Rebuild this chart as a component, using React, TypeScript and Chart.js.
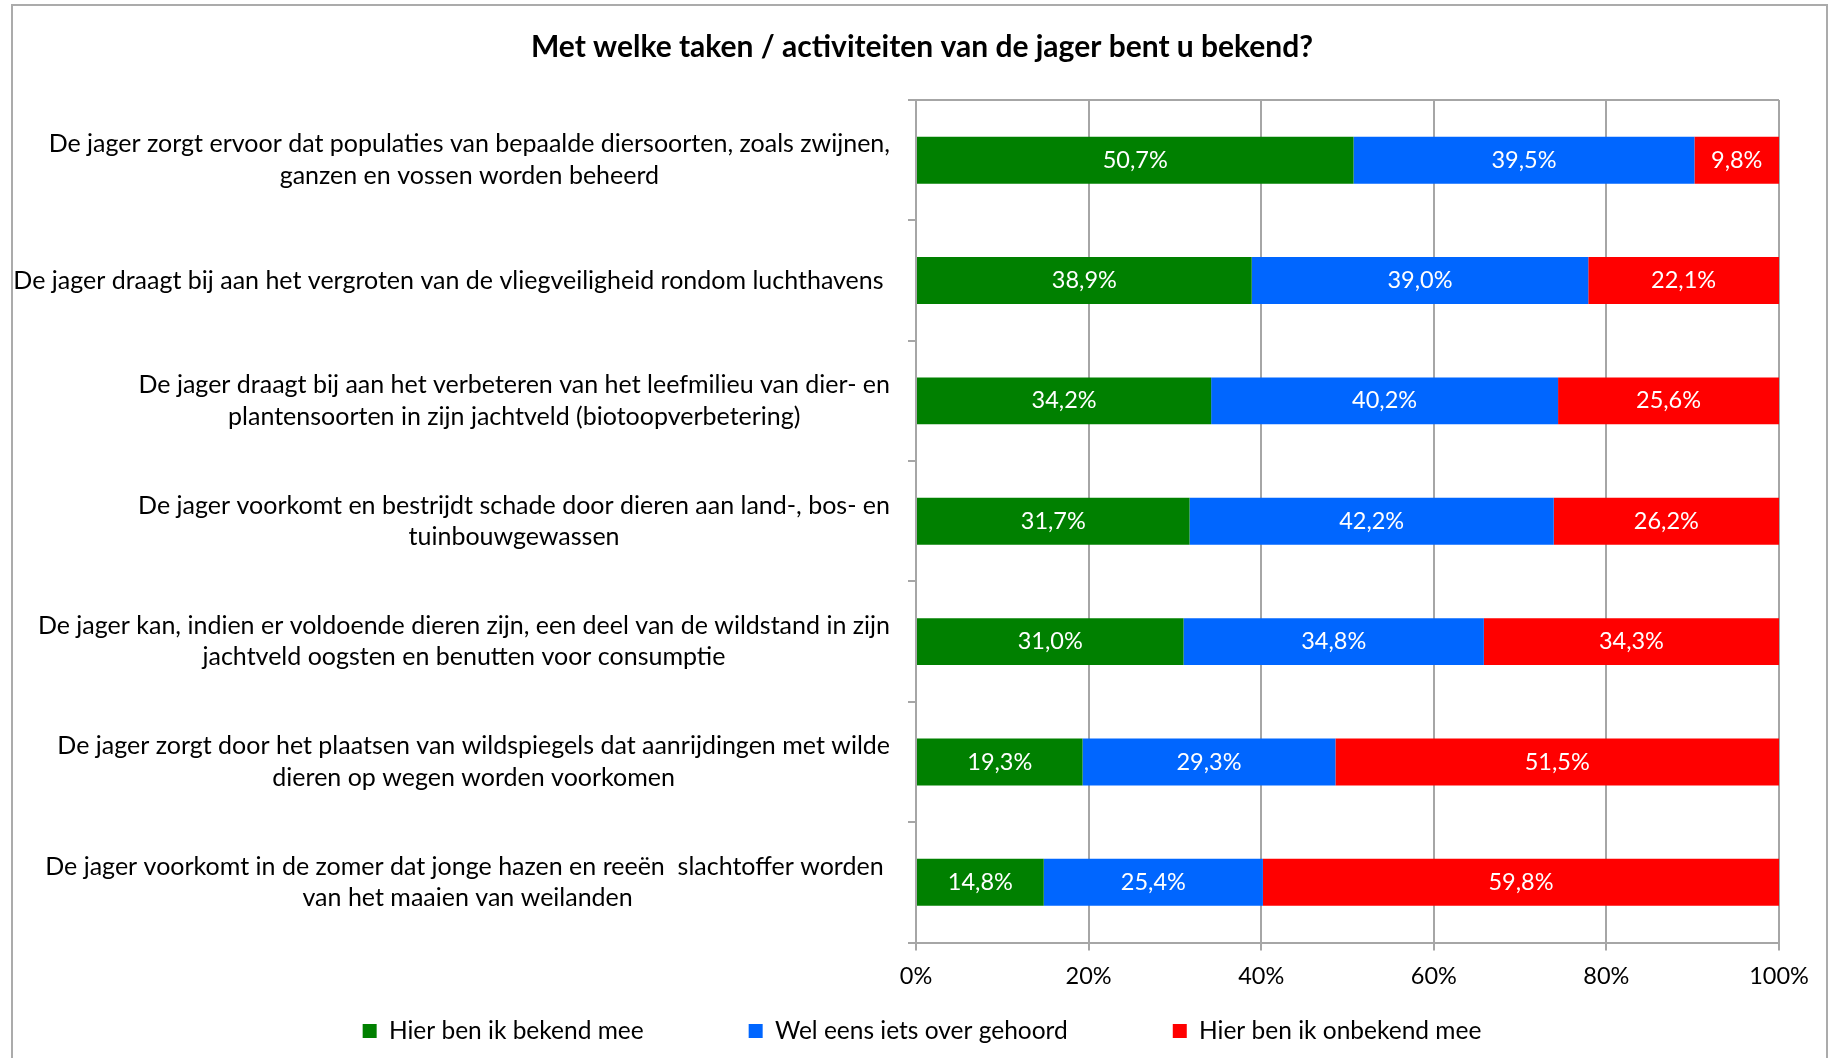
import { useEffect, useRef } from 'react';
import { Chart, registerables } from 'chart.js';

Chart.register(...registerables);

const TITLE = 'Met welke taken / activiteiten van de jager bent u bekend?';

const CATEGORIES: string[][] = [
  ['De jager zorgt ervoor dat populaties van bepaalde diersoorten, zoals zwijnen,', 'ganzen en vossen worden beheerd'],
  ['De jager draagt bij aan het vergroten van de vliegveiligheid rondom luchthavens '],
  ['De jager draagt bij aan het verbeteren van het leefmilieu van dier- en', 'plantensoorten in zijn jachtveld (biotoopverbetering)'],
  ['De jager voorkomt en bestrijdt schade door dieren aan land-, bos- en', 'tuinbouwgewassen'],
  ['De jager kan, indien er voldoende dieren zijn, een deel van de wildstand in zijn', 'jachtveld oogsten en benutten voor consumptie'],
  ['De jager zorgt door het plaatsen van wildspiegels dat aanrijdingen met wilde', 'dieren op wegen worden voorkomen'],
  ['De jager voorkomt in de zomer dat jonge hazen en reeën  slachtoffer worden ', 'van het maaien van weilanden'],
];

const SERIES_NAMES = ['Hier ben ik bekend mee', 'Wel eens iets over gehoord', 'Hier ben ik onbekend mee'];
const BEKEND = [50.7, 38.9, 34.2, 31.7, 31.0, 19.3, 14.8];
const GEHOORD = [39.5, 39.0, 40.2, 42.2, 34.8, 29.3, 25.4];
const ONBEKEND = [9.8, 22.1, 25.6, 26.2, 34.3, 51.5, 59.8];
const X_TICKS = [0, 20, 40, 60, 80, 100];

const COLORS = ['#008000', '#0066FF', '#FF0000'];
const GRID = '#a6a6a6';
const FONT = 'Lato';
const CAT_FS = 25;
const VAL_FS = 23.5;
const TICK_FS = 23.5;
const LEG_FS = 24.5;
const TITLE_FS = 30;

const fmt = (v: number) => v.toFixed(1).replace('.', ',') + '%';

const catLabelPlugin = {
  id: 'catLabels',
  afterDraw(chart: any) {
    const y = chart.scales.y;
    const ctx = chart.ctx;
    ctx.save();
    ctx.font = `${CAT_FS}px ${FONT}`;
    ctx.fillStyle = '#000';
    ctx.textAlign = 'center';
    ctx.textBaseline = 'middle';
    const right = y.right - 26;
    const labels = chart.data.labels as string[][];
    labels.forEach((lines, i) => {
      const w = Math.max(...lines.map((l) => ctx.measureText(l).width));
      const cx = right - w / 2;
      const cy = y.getPixelForTick(i);
      lines.forEach((l, j) => {
        ctx.fillText(l, cx, cy + (j - (lines.length - 1) / 2) * 31.5);
      });
    });
    ctx.restore();
  },
};

const valueLabelPlugin = {
  id: 'valueLabels',
  afterDatasetsDraw(chart: any) {
    const ctx = chart.ctx;
    ctx.save();
    ctx.font = `${VAL_FS}px ${FONT}`;
    ctx.fillStyle = '#ffffff';
    ctx.textAlign = 'center';
    ctx.textBaseline = 'middle';
    chart.data.datasets.forEach((ds: any, di: number) => {
      const meta = chart.getDatasetMeta(di);
      meta.data.forEach((bar: any, i: number) => {
        const { x, y, base } = bar.getProps(['x', 'y', 'base'], true);
        const xr = Math.min(x, chart.chartArea.right);
        ctx.fillText(fmt(ds.data[i]), (xr + base) / 2, y);
      });
    });
    ctx.restore();
  },
};

export default function App() {
  const ref = useRef<HTMLCanvasElement>(null);

  useEffect(() => {
    document.body.style.overflow = 'hidden';
    const seriesData = [BEKEND, GEHOORD, ONBEKEND];
    const chart = new Chart(ref.current as HTMLCanvasElement, {
      type: 'bar',
      data: {
        labels: CATEGORIES as any,
        datasets: SERIES_NAMES.map((name, i) => ({
          label: name,
          data: seriesData[i],
          backgroundColor: COLORS[i],
          borderWidth: 0,
          barPercentage: 0.39,
          categoryPercentage: 1,
        })),
      },
      options: {
        indexAxis: 'y',
        responsive: false,
        animation: false,
        devicePixelRatio: 1,
        layout: { padding: { left: 52, right: 47, top: 0, bottom: 4.75 } },
        scales: {
          x: {
            stacked: true,
            min: 0,
            max: 100,
            afterBuildTicks: (s: any) => {
              s.ticks = X_TICKS.map((v) => ({ value: v }));
            },
            afterFit: (s: any) => {
              s.height = 76.25;
            },
            ticks: {
              callback: (v: any) => `${v}%`,
              color: '#000',
              font: { family: FONT, size: TICK_FS },
              padding: 12,
              maxRotation: 0,
            },
            grid: { color: GRID, lineWidth: 2, tickLength: 8, drawTicks: true, tickColor: GRID },
            border: { display: true, color: GRID, width: 2 },
          },
          y: {
            stacked: true,
            afterFit: (s: any) => {
              s.width = 851;
            },
            ticks: { display: false },
            grid: {
              offset: true,
              drawOnChartArea: true,
              lineWidth: 2,
              tickLength: 8,
              drawTicks: true,
              tickColor: GRID,
              color: (c: any) => (c.index === 0 ? GRID : 'rgba(0,0,0,0)'),
            },
            border: { display: true, color: GRID, width: 2 },
          },
        },
        plugins: {
          tooltip: { enabled: false },
          title: {
            display: true,
            text: TITLE,
            color: '#000',
            font: { family: FONT, size: TITLE_FS, weight: 'bold', lineHeight: 1.2 },
            padding: { top: 23, bottom: 35 },
          },
          legend: {
            position: 'bottom',
            labels: {
              color: '#000',
              font: { family: FONT, size: LEG_FS },
              boxWidth: 14,
              boxHeight: 14,
              padding: 105,
            },
            title: {
              display: true,
              text: '',
              font: { size: 10, lineHeight: 1 },
              padding: { top: -115, bottom: 0 },
            },
          },
        },
      } as any,
      plugins: [catLabelPlugin, valueLabelPlugin],
    });
    return () => chart.destroy();
  }, []);

  return (
    <div
      style={{
        position: 'absolute',
        left: 11,
        top: 4,
        width: 1817,
        height: 1054,
        border: `2px solid #ababab`,
        borderBottom: 'none',
        boxSizing: 'border-box',
        background: '#fff',
      }}
    >
      <canvas ref={ref} width={1813} height={1052} style={{ display: 'block', width: 1813, height: 1052 }} />
    </div>
  );
}
